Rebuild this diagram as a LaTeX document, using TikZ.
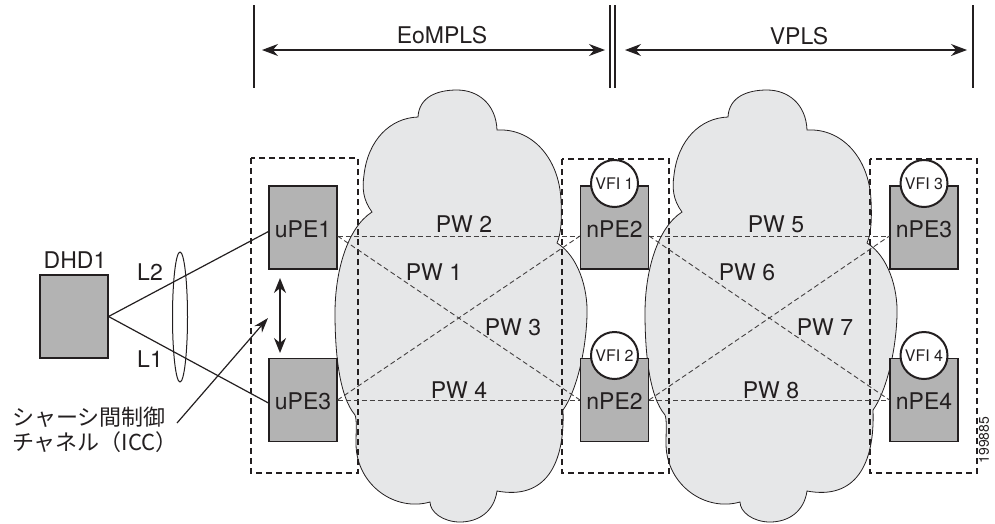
\documentclass[tikz,border=0pt]{standalone}
\usepackage{fontspec}
\setmainfont{TeX Gyre Heros}
\newfontfamily\jpfont{Noto Sans CJK JP}
\usetikzlibrary{arrows.meta,calc}
\definecolor{devgray}{HTML}{B3B3B3}
\definecolor{cloudgray}{HTML}{E6E7E8}
\definecolor{ink}{HTML}{231F20}
\begin{document}
\begin{tikzpicture}[x=1pt, y=-1pt,
  every node/.style={font=\fontsize{23}{27}\selectfont, text=ink},
  dev/.style={draw=ink, fill=devgray, line width=1.1pt, minimum width=68pt, minimum height=83pt, inner sep=0pt, text height=19pt, text depth=0pt},
  vfi/.style={circle, draw=ink, fill=white, line width=2pt, minimum size=47pt, inner sep=0pt, font=\fontsize{16}{18}\selectfont},
  grp/.style={draw=ink, line width=2.6pt, dash pattern=on 6pt off 4pt},
  pw/.style={draw=ink!85, line width=0.9pt, dash pattern=on 5pt off 3pt},
  lbl/.style={anchor=base, inner sep=0pt},
  thinline/.style={draw=ink, line width=1.2pt},
  dimarrow/.style={draw=ink, line width=1.2pt, {Stealth[length=16pt,width=12pt]}-{Stealth[length=16pt,width=12pt]}},
  cloudstyle/.style={fill=cloudgray, draw=ink, line width=0.8pt},
  netcloud/.pic={
    \path[cloudstyle] (418,117) .. controls (419,97) and (437,90) .. (457,90)
      .. controls (478,90) and (496,104) .. (497,130)
      .. controls (532,128) and (559,158) .. (561,200)
      .. controls (562,220) and (561,234) .. (557,243)
      .. controls (578,256) and (588,288) .. (587,315)
      .. controls (586,352) and (576,392) .. (563,410)
      .. controls (565,465) and (545,500) .. (497,491)
      .. controls (494,512) and (478,522) .. (460,522)
      .. controls (443,522) and (430,512) .. (430,502)
      .. controls (395,512) and (357,485) .. (356,445)
      .. controls (356,430) and (357,420) .. (355,415)
      .. controls (339,396) and (335,352) .. (335,313)
      .. controls (335,272) and (347,228) .. (372,212)
      .. controls (363,200) and (362,188) .. (364,175)
      .. controls (368,140) and (390,118) .. (418,117) -- cycle;
  }
]
\useasboundingbox (0,0) rectangle (995,523);

% clouds
\pic at (0,0) {netcloud};
\pic at (310,0) {netcloud};

% group boxes
\draw[grp] (251,158) rectangle (358,473);
\draw[grp] (562,159) rectangle (669,473);
\draw[grp] (870,159) rectangle (977,473);

% top dimension lines
\coordinate (t1a) at (254,5);   \coordinate (t1b) at (254,88);
\coordinate (t2a) at (610,5);   \coordinate (t2b) at (610,88);
\coordinate (t3a) at (615,5);   \coordinate (t3b) at (615,88);
\coordinate (t4a) at (973,5);   \coordinate (t4b) at (973,88);
\draw[thinline] (t1a) -- (t1b);
\draw[thinline] (t2a) -- (t2b);
\draw[thinline] (t3a) -- (t3b);
\draw[thinline] (t4a) -- (t4b);
\coordinate (e1) at (262,50); \coordinate (e2) at (605,50);
\coordinate (v1) at (625,50); \coordinate (v2) at (967,50);
\draw[dimarrow] (e1) -- (e2);
\draw[dimarrow] (v1) -- (v2);
\node[lbl] (eomplslbl) at (442,43) {EoMPLS};
\node[lbl] (vplslbl) at (799,44) {VPLS};

% devices
\node[dev] (dhd) at (74,316.5) {};
\node[lbl] (dhdlbl) at (75,268) {DHD1};
\node[dev] (upe1) at (303,227.5) {uPE1};
\node[dev] (upe3) at (303,400) {uPE3};
\node[dev] (npe2a) at (614.5,227.5) {nPE2};
\node[dev] (npe2b) at (614.5,400) {nPE2};
\node[dev] (npe3) at (924,227.5) {nPE3};
\node[dev] (npe4) at (924,400) {nPE4};
\node[vfi] (vfi1) at (614.5,183.5) {VFI 1};
\node[vfi] (vfi2) at (614.5,355.5) {VFI 2};
\node[vfi] (vfi3) at (924,183.5) {VFI 3};
\node[vfi] (vfi4) at (924,355.5) {VFI 4};

% access links
\draw[thinline] (dhd.east) -- ([yshift=-4pt]upe1.west);
\draw[thinline] (dhd.east) -- ([yshift=-3pt]upe3.west);
\draw[draw=ink, line width=1pt] (180,317) ellipse [x radius=7.5, y radius=65];
\node[lbl] (l2) at (150,280) {L2};
\node[lbl] (l1) at (150,367) {L1};

% ICC
\coordinate (icctop) at (280,278);
\coordinate (iccbot) at (280,353);
\draw[draw=ink, line width=1.6pt, {Stealth[length=15pt,width=12pt]}-{Stealth[length=15pt,width=12pt]}] (icctop) -- (iccbot);
\node[anchor=base west, inner sep=0pt, align=left, font=\jpfont\fontsize{22}{25}\selectfont] (icclbl) at (12,450) {シャーシ間制御\\チャネル（ICC）};
\coordinate (ptrstart) at (177,423);
\coordinate (ptrend) at (268,318);
\draw[draw=ink, line width=1.2pt, -{Stealth[length=15pt,width=10pt]}] (ptrstart) -- (ptrend);

% pseudowires EoMPLS
\draw[pw] ([yshift=-8.5pt]upe1.east) -- ([yshift=-8.5pt]npe2a.west);
\draw[pw] ([yshift=-8.5pt]upe1.east) -- (npe2b.west);
\draw[pw] (upe3.east) -- ([yshift=-8.5pt]npe2a.west);
\draw[pw] (upe3.east) -- (npe2b.west);
\node[lbl] at (464,232) {PW 2};
\node[lbl] at (434,280) {PW 1};
\node[lbl] at (513,335) {PW 3};
\node[lbl] at (459,398) {PW 4};

% pseudowires VPLS
\draw[pw] ([yshift=-8.5pt]npe2a.east) -- ([yshift=-8.5pt]npe3.west);
\draw[pw] ([yshift=-8.5pt]npe2a.east) -- (npe4.west);
\draw[pw] (npe2b.east) -- ([yshift=-8.5pt]npe3.west);
\draw[pw] (npe2b.east) -- (npe4.west);
\node[lbl] at (776,232) {PW 5};
\node[lbl] at (747,280) {PW 6};
\node[lbl] at (825,335) {PW 7};
\node[lbl] at (771,398) {PW 8};

% figure number
\node[rotate=90, inner sep=0pt, font=\fontsize{14}{16}\selectfont] (fignum) at (984,440) {199885};
\end{tikzpicture}
\end{document}
